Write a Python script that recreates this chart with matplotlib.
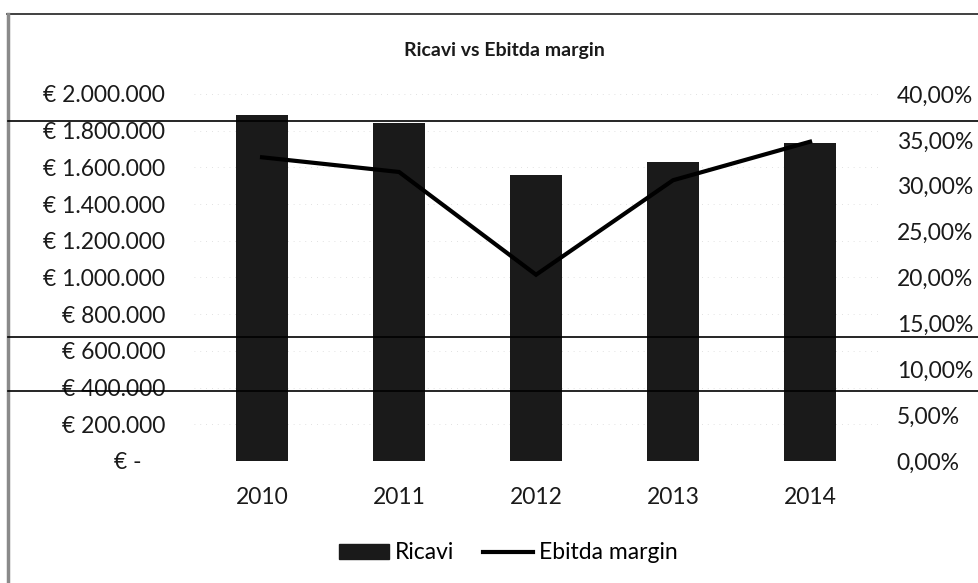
import matplotlib
matplotlib.use("Agg")
import matplotlib.pyplot as plt
from matplotlib.lines import Line2D
from matplotlib.ticker import FuncFormatter

# Ricavi (EUR) and Ebitda margin (%) per year
anni = ["2010", "2011", "2012", "2013", "2014"]
ricavi = [1886000, 1843000, 1556000, 1631000, 1734000]
ebitda_margin = [33.1, 31.5, 20.3, 30.6, 34.8]

plt.rcParams["font.family"] = ["Lato", "DejaVu Sans"]
col = "#1a1a1a"
fs = 16.5

fig = plt.figure(figsize=(9.79, 5.83), dpi=100)
ax = fig.add_axes([0.1977, 0.2093, 0.6997, 0.6295])
ax2 = ax.twinx()

x = range(len(anni))
ax.bar(x, ricavi, width=0.38, color=col, zorder=2)
ax2.plot(x, ebitda_margin, color="black", lw=3, solid_joinstyle="miter", zorder=3)
ax2.set_zorder(ax.get_zorder() + 1)
ax2.patch.set_visible(False)

ax.set_xlim(-0.5, len(anni) - 0.5)
ax.set_ylim(0, 2000000)
ax2.set_ylim(0, 40)
ax.set_yticks(range(0, 2000001, 200000))
ax2.set_yticks(range(0, 41, 5))


def euro(v, pos):
    if v == 0:
        return "€ -    "
    return "€ " + f"{int(v):,}".replace(",", ".")


ax.yaxis.set_major_formatter(FuncFormatter(euro))
ax2.yaxis.set_major_formatter(FuncFormatter(lambda v, p: f"{v:.2f}%".replace(".", ",")))
ax.set_xticks(list(x))
ax.set_xticklabels(anni)

ax.grid(axis="y", color="#d8d8d8", lw=0.6, ls=(0, (1, 6)), zorder=0)
for a in (ax, ax2):
    for s in a.spines.values():
        s.set_visible(False)
ax.tick_params(axis="y", length=0, pad=20.5, labelsize=fs, colors=col)
ax.tick_params(axis="x", length=0, pad=19, labelsize=fs, colors=col)
ax2.tick_params(axis="y", length=0, pad=13, labelsize=fs, colors=col)

fig.text(0.515, 0.914, "Ricavi vs Ebitda margin", ha="center", va="center",
         fontsize=14, fontweight="bold", color=col)

# legend
handles = [plt.Rectangle((0, 0), 1, 1, color=col),
           Line2D([], [], color="black", lw=3)]
fig.legend(handles, ["Ricavi", "Ebitda margin"], loc="center",
           bbox_to_anchor=(0.519, 0.0515), ncol=2, frameon=False,
           fontsize=fs, handlelength=2.2, handleheight=0.6,
           handletextpad=0.25, columnspacing=1.25)

# frame edges and stray rules across the sheet
fig.add_artist(Line2D([0.007, 1], [1 - 14 / 583] * 2, color="#202020", lw=1.2))
fig.add_artist(Line2D([0.0085] * 2, [0, 1 - 14 / 583], color="#8a8a8a", lw=2.5))
for yp in (121, 337, 391):
    fig.add_artist(Line2D([0.008, 1], [1 - yp / 583] * 2, color="black", lw=1.2))

fig.savefig("out.png", dpi=100)
